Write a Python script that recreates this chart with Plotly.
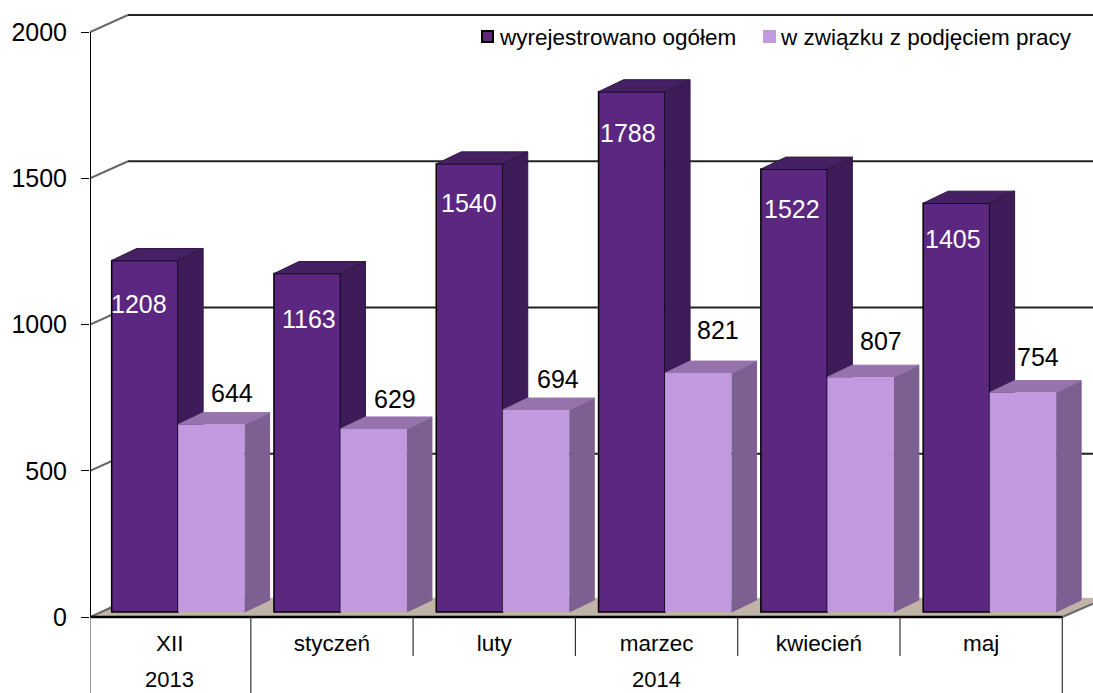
import plotly.graph_objects as go

# ---------- data ----------
categories = ["XII", "styczeń", "luty", "marzec", "kwiecień", "maj"]
years = ["2013", "2014"]
series_names = ["wyrejestrowano ogółem", "w związku z podjęciem pracy"]
total = [1208, 1163, 1540, 1788, 1522, 1405]
employed = [644, 629, 694, 821, 807, 754]
y_ticks = [0, 500, 1000, 1500, 2000]

# hand-placed label nudges of the reference (pixels: x from bar pair centre, y above bar top)
total_nudge_x = [-39, -31, -34, -37, -35, -37]
total_nudge_y = [-44, -45, -39, -41, -40, -36]
employed_nudge_x = [54, 55, 55, 53, 54, 48]
employed_nudge_y = [32, 30, 31, 43, 36, 36]

# ---------- geometry / style ----------
W, H = 1093, 693
LEFT = 90
Y0_AXIS, K_AXIS = 617, 0.2925   # wall axis: pixel of 0, px per unit
Y0_BAR, K_BAR = 612, 0.291      # front plane of the bars
CAT0, CAT_W = 169.65, 162.3     # pixel centre of 1st category, category width
PAIR_SHIFT = 8.5
BAR_W = 66.5
DEPTH_X, DEPTH_Y = 25, 12
WALL_X, WALL_Y = 38, 17
FONT = "Liberation Sans, Arial, sans-serif"
C_D, C_D_SIDE, C_D_TOP = "#5C2780", "#3E1B59", "#452063"
C_L, C_L_SIDE, C_L_TOP = "#C199DF", "#7C6091", "#9673AD"
C_FLOOR = "#C0B4A8"

u = lambda px: (px - CAT0) / CAT_W
du = lambda px: px / CAT_W
paper_x = lambda px: (px - LEFT) / (W - LEFT)
paper_y = lambda py: (H - py) / H

n = len(categories)
xs = list(range(n))
x_start, x_end = u(LEFT), u(W)
right_edge = n - 0.5
wall_dv = WALL_Y / K_AXIS

fig = go.Figure()


def line(xv, yv, color, width, yaxis="y"):
    fig.add_trace(go.Scatter(x=xv, y=yv, mode="lines", yaxis=yaxis, cliponaxis=False,
                             line=dict(color=color, width=width), hoverinfo="skip", showlegend=False))


def poly(xv, yv, color, yaxis, border=None):
    fig.add_trace(go.Scatter(x=xv, y=yv, mode="lines", fill="toself", fillcolor=color, yaxis=yaxis,
                             line=dict(color=border or color, width=1), hoverinfo="skip", showlegend=False))


# floor
poly([x_start, x_start + du(WALL_X), right_edge + du(WALL_X), right_edge],
     [0, wall_dv * 1.1, wall_dv * 1.1, 0], C_FLOOR, "y")

# walls: grid lines
gx, gy, dx, dy = [], [], [], []
for v in y_ticks:
    if v > 0:
        gx += [x_start + du(WALL_X), u(W), None]
        gy += [v + wall_dv, v + wall_dv, None]
    dx += [x_start, x_start + du(WALL_X), None]
    dy += [v, v + wall_dv, None]
dx += [right_edge, u(W)]
dy += [0, wall_dv * (W - 1063) / WALL_X]
line(gx, gy, "#222222", 2)
line(dx, dy, "#666666", 2)

# axes lines and separators
line([x_start, x_start], [0, 2000], "#000000", 2)
line([x_start, right_edge], [0, 0], "#000000", 2.5)
bottom = -(H - Y0_AXIS) / K_AXIS
short = -(656 - Y0_AXIS) / K_AXIS
line([x_start, x_start], [bottom, 0], "#555555", 1.2)
line([0.5, 0.5], [bottom, 0], "#333333", 1.2)
line([right_edge, right_edge], [bottom, 0], "#333333", 1.2)
sx, sy = [], []
for i in range(1, n - 1):
    sx += [i + 0.5, i + 0.5, None]
    sy += [short, 0, None]
line(sx, sy, "#333333", 1.2)

bw, dep_x = du(BAR_W), du(DEPTH_X)
shift = du(PAIR_SHIFT)
dep_v = DEPTH_Y / K_BAR


def faces(values, left_offset, c_side, c_top, yaxis, border=None):
    for x, v in zip(xs, values):
        x0 = x + left_offset
        x1 = x0 + bw
        poly([x1, x1 + dep_x, x1 + dep_x, x1], [0, dep_v, v + dep_v, v], c_side, yaxis, border)
        poly([x0, x0 + dep_x, x1 + dep_x, x1], [v, v + dep_v, v + dep_v, v], c_top, yaxis, border)


# dark series
faces(total, shift - bw, C_D_SIDE, C_D_TOP, "y2", "#2E1A40")
fig.add_trace(go.Bar(x=xs, y=total, width=bw, offset=shift - bw, yaxis="y2", name=series_names[0],
                     marker=dict(color=C_D, line=dict(color="#000000", width=1.5)),
                     hoverinfo="skip", showlegend=False))
# light series
fig.add_trace(go.Bar(x=xs, y=employed, width=bw, offset=shift, yaxis="y3", name=series_names[1],
                     marker=dict(color=C_L, line=dict(width=0)),
                     hoverinfo="skip", showlegend=False))
faces(employed, shift, C_L_SIDE, C_L_TOP, "y3")

# data labels
ann = []
for i, v in enumerate(total):
    ann.append(dict(x=i + shift, y=v, xref="x", yref="y2", text=str(v), showarrow=False,
                    xshift=total_nudge_x[i], yshift=total_nudge_y[i],
                    font=dict(family=FONT, size=25, color="#FFFFFF")))
for i, v in enumerate(employed):
    ann.append(dict(x=i + shift, y=v, xref="x", yref="y3", text=str(v), showarrow=False,
                    xshift=employed_nudge_x[i], yshift=employed_nudge_y[i],
                    font=dict(family=FONT, size=25, color="#000000")))
# years
for txt, cx in zip(years, [0, 3]):
    ann.append(dict(x=cx, y=0, xref="x", yref="paper", text=txt, showarrow=False,
                    yanchor="bottom", borderpad=0, font=dict(family=FONT, size=22, color="#000000")))
# legend
for txt, px in zip(series_names, [497, 778]):
    ann.append(dict(x=paper_x(px), y=paper_y(37), xref="paper", yref="paper", text=txt, showarrow=False,
                    xanchor="left", yanchor="middle",
                    font=dict(family=FONT, size=22.5, color="#000000")))

shapes = [
    dict(type="rect", xref="paper", yref="paper", x0=paper_x(482), x1=paper_x(493),
         y0=paper_y(42), y1=paper_y(31), fillcolor=C_D, line=dict(color="#000000", width=2)),
    dict(type="rect", xref="paper", yref="paper", x0=paper_x(763), x1=paper_x(776),
         y0=paper_y(43), y1=paper_y(30), fillcolor=C_L, line=dict(width=0)),
]

y_lo = -(H - Y0_AXIS) / K_AXIS
y_hi = Y0_AXIS / K_AXIS
y2_range = [-(H - Y0_BAR) / K_BAR, Y0_BAR / K_BAR]

fig.update_layout(
    width=W, height=H, autosize=False,
    margin=dict(l=LEFT, r=0, t=0, b=0),
    paper_bgcolor="#FFFFFF", plot_bgcolor="#FFFFFF",
    barmode="overlay", showlegend=False,
    font=dict(family=FONT, color="#000000"),
    annotations=ann, shapes=shapes,
    xaxis=dict(range=[x_start, x_end], anchor="free", position=(H - Y0_AXIS) / H,
               tickmode="array", tickvals=xs, ticktext=categories, ticks="",
               ticklabelstandoff=10, showgrid=False, zeroline=False, showline=False,
               tickfont=dict(family=FONT, size=22.5, color="#000000")),
    yaxis=dict(range=[y_lo, y_hi], tickmode="array", tickvals=y_ticks, ticks="outside",
               ticklen=8, tickwidth=1, tickcolor="#000000", ticklabelstandoff=9,
               showgrid=False, zeroline=False, showline=False,
               tickfont=dict(family=FONT, size=25, color="#000000")),
    yaxis2=dict(range=y2_range, overlaying="y", visible=False),
    yaxis3=dict(range=y2_range, overlaying="y", visible=False),
)

fig.write_html("out.html", config=dict(displayModeBar=False),
               post_script="document.body.style.margin='0';document.body.style.overflow='hidden';")
